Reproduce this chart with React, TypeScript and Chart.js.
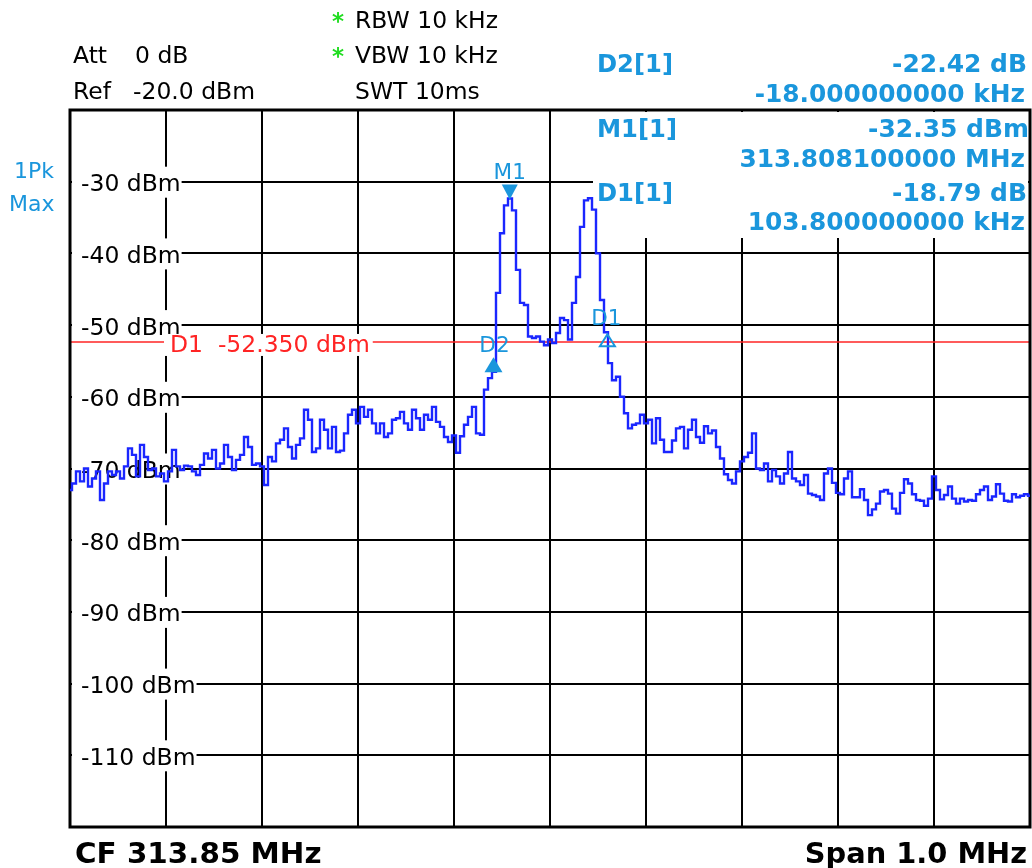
import React, { useEffect, useRef } from "react";
import { Chart, registerables } from "chart.js";

Chart.register(...registerables);

// ---- data ----
const centerMHz = 313.85;
const spanKHz = 1000;
const sweepPoints = 241;
const refLevel = -20;
const bottomLevel = -120;
const levelStep = 10;
const freqGridStepKHz = 100;

const traceLevels: number[] = [
  -73.0, -72.1, -70.4, -71.8, -70.0, -72.5, -71.4, -70.4, -74.4, -72.1,
  -70.4, -70.9, -70.4, -71.4, -69.7, -67.2, -68.1, -71.1, -66.7, -68.4,
  -70.2, -70.0, -71.1, -70.7, -71.8, -70.4, -67.4, -69.7, -70.2, -69.6,
  -69.7, -70.4, -70.9, -69.5, -67.9, -68.6, -67.4, -70.0, -69.3, -66.7,
  -68.4, -70.2, -68.8, -68.1, -65.6, -67.0, -69.5, -69.3, -69.7, -72.3,
  -68.4, -69.0, -66.5, -66.0, -64.4, -67.0, -68.6, -66.7, -65.8, -61.8,
  -63.2, -67.7, -67.2, -63.2, -64.6, -67.2, -64.2, -67.7, -67.5, -65.1,
  -62.5, -61.8, -63.7, -61.4, -62.8, -61.8, -63.7, -65.1, -63.7, -65.6,
  -65.1, -63.2, -63.0, -62.1, -63.7, -64.6, -61.8, -63.0, -64.6, -62.5,
  -63.2, -61.4, -63.5, -64.2, -65.6, -66.3, -65.4, -67.8, -65.5, -63.9,
  -62.8, -61.4, -65.1, -65.3, -59.0, -57.4, -56.5, -45.5, -37.2, -33.3,
  -32.35, -34.0, -42.3, -46.9, -47.2, -51.6, -51.8, -51.6, -52.3, -52.8,
  -52.0, -52.5, -51.1, -49.0, -49.3, -52.0, -46.9, -43.3, -36.3, -32.6,
  -32.3, -33.9, -40.0, -46.5, -51.0, -55.3, -57.7, -57.2, -60.0, -62.3,
  -64.4, -63.9, -63.7, -62.5, -63.7, -63.2, -66.5, -63.0, -66.0, -67.7,
  -67.7, -66.1, -64.4, -64.2, -67.2, -64.6, -63.2, -65.6, -66.4, -64.1,
  -65.1, -64.7, -67.0, -68.6, -70.8, -71.6, -72.1, -70.4, -69.0, -68.4,
  -67.8, -65.1, -70.0, -70.2, -69.3, -71.8, -70.2, -71.1, -72.1, -70.7,
  -67.7, -71.4, -71.8, -72.3, -70.9, -73.5, -73.7, -73.9, -74.4, -70.7,
  -70.0, -72.0, -73.4, -73.6, -71.4, -70.4, -74.0, -74.0, -72.9, -74.4,
  -76.5, -75.7, -74.9, -73.2, -73.0, -73.5, -75.6, -76.3, -73.4, -71.5,
  -72.1, -73.6, -74.4, -74.5, -75.2, -74.2, -71.1, -73.0, -74.3, -73.7,
  -72.5, -74.2, -74.9, -74.2, -74.6, -74.4, -74.5, -73.6, -73.0, -72.5,
  -74.4, -73.9, -72.2, -73.5, -74.5, -74.6, -73.6, -74.0, -73.8, -73.6,
  -73.8,
];

const yTickValues = [-30, -40, -50, -60, -70, -80, -90, -100, -110];
const yTickLabels = ["-30 dBm", "-40 dBm", "-50 dBm", "-60 dBm", "-70 dBm", "-80 dBm", "-90 dBm", "-100 dBm", "-110 dBm"];

const markerNames = ["M1", "D2", "D1"];
const markerOffsetsKHz = [458.1, 440.1, 561.9];
const markerLevels = [-32.35, -54.77, -51.14];
const markerShapes = ["down", "up", "upOpen"];

const displayLineLevel = -52.35;
const displayLineLabel = "D1  -52.350 dBm";

const infoNames = ["D2[1]", "M1[1]", "D1[1]"];
const infoValues = ["-22.42 dB", "-32.35 dBm", "-18.79 dB"];
const infoFreqs = ["-18.000000000 kHz", "313.808100000 MHz", "103.800000000 kHz"];

const headerLeft = [
  ["Att", "0 dB"],
  ["Ref", "-20.0 dBm"],
];
const headerMid = ["RBW 10 kHz", "VBW 10 kHz", "SWT 10ms"];
const traceInfo = ["1Pk", "Max"];
const footerLeft = `CF ${centerMHz.toFixed(2)} MHz`;
const footerRight = `Span ${(spanKHz / 1000).toFixed(1)} MHz`;

// ---- styles ----
const BLUE_MK = "#1a96dc";
const TRACE = "#1a26ff";
const RED = "#ff2424";
const GREEN = "#22dd22";
const FONT = '"DejaVu Sans", Verdana, sans-serif';
const NSIZE = 23;
const NSX = 1.02;

type Align = "left" | "right" | "center";
function txt(
  ctx: CanvasRenderingContext2D,
  s: string,
  x: number,
  y: number,
  size: number,
  color: string,
  opts: { bold?: boolean; align?: Align; sx?: number } = {}
) {
  const sx = opts.sx ?? 1;
  ctx.save();
  ctx.font = `${opts.bold ? "bold " : ""}${size}px ${FONT}`;
  ctx.fillStyle = color;
  ctx.textBaseline = "alphabetic";
  ctx.textAlign = "left";
  const w = ctx.measureText(s).width * sx;
  const left = opts.align === "right" ? x - w : opts.align === "center" ? x - w / 2 : x;
  ctx.translate(left, y);
  ctx.scale(sx, 1);
  ctx.fillText(s, 0, 0);
  ctx.restore();
  return { left, w };
}

const overlayPlugin = {
  id: "specOverlay",
  beforeDatasetsDraw(chart: any) {
    const ctx: CanvasRenderingContext2D = chart.ctx;
    const { left, right, top, bottom } = chart.chartArea;
    const ys = chart.scales.y;

    // info box (white) covering grid at top right
    ctx.save();
    ctx.fillStyle = "#fff";
    ctx.fillRect(593, top + 2, right - 2 - 593, 238 - top - 2);
    ctx.restore();

    // y labels
    yTickValues.forEach((v, i) => {
      const py = ys.getPixelForValue(v);
      ctx.save();
      ctx.font = `${NSIZE}px ${FONT}`;
      const w = ctx.measureText(yTickLabels[i]).width * NSX;
      ctx.fillStyle = "#fff";
      ctx.fillRect(left + 2, py - 15, 81 - left - 2 + w + 1, 31);
      ctx.restore();
      txt(ctx, yTickLabels[i], 81, py + 9.5, NSIZE, "#000", { sx: NSX });
    });

    // display line
    const dy = ys.getPixelForValue(displayLineLevel);
    ctx.save();
    ctx.strokeStyle = RED;
    ctx.lineWidth = 1.6;
    ctx.beginPath();
    ctx.moveTo(left, dy);
    ctx.lineTo(right, dy);
    ctx.stroke();
    ctx.font = `${NSIZE}px ${FONT}`;
    const rw = ctx.measureText(displayLineLabel).width * NSX;
    ctx.fillStyle = "#fff";
    ctx.fillRect(164, dy - 8, rw + 9, 22);
    ctx.restore();
    txt(ctx, displayLineLabel, 170, dy + 10.5, NSIZE, RED, { sx: NSX });

    // frame
    ctx.save();
    ctx.strokeStyle = "#000";
    ctx.lineWidth = 3;
    ctx.strokeRect(left, top, right - left, bottom - top);
    ctx.restore();
  },
  afterDatasetsDraw(chart: any) {
    const ctx: CanvasRenderingContext2D = chart.ctx;
    const xs = chart.scales.x;
    const ys = chart.scales.y;

    markerNames.forEach((name, i) => {
      const mx = xs.getPixelForValue(markerOffsetsKHz[i]);
      const my = ys.getPixelForValue(markerLevels[i]);
      const shape = markerShapes[i];
      ctx.save();
      ctx.fillStyle = BLUE_MK;
      ctx.strokeStyle = BLUE_MK;
      ctx.lineWidth = 2;
      ctx.beginPath();
      if (shape === "down") {
        ctx.moveTo(mx, my + 1);
        ctx.lineTo(mx - 8, my - 14);
        ctx.lineTo(mx + 8, my - 14);
        ctx.closePath();
        ctx.fill();
      } else if (shape === "up") {
        ctx.moveTo(mx + 1, my - 2);
        ctx.lineTo(mx - 8, my + 13);
        ctx.lineTo(mx + 10, my + 13);
        ctx.closePath();
        ctx.fill();
      } else {
        ctx.moveTo(mx - 2, my + 1);
        ctx.lineTo(mx - 9.5, my + 13);
        ctx.lineTo(mx + 5.5, my + 13);
        ctx.closePath();
        ctx.stroke();
      }
      ctx.restore();
      const ly = shape === "down" ? my - 20 : shape === "up" ? my - 7 : my - 8;
      txt(ctx, name, mx + (shape === "down" ? 0 : shape === "up" ? 2 : -3), ly, 22, BLUE_MK, { align: "center", sx: 0.98 });
    });
  },
  afterDraw(chart: any) {
    const ctx: CanvasRenderingContext2D = chart.ctx;
    const hb = [63, 99];
    headerLeft.forEach((row, r) => {
      txt(ctx, row[0], 73, hb[r], NSIZE, "#000", { sx: NSX });
      txt(ctx, row[1], r === 0 ? 135 : 133, hb[r], NSIZE, "#000", { sx: NSX });
    });
    const mb = [28, 63, 99];
    headerMid.forEach((s, r) => {
      txt(ctx, s, 355, mb[r], NSIZE, "#000", { sx: NSX });
      if (r < 2) txt(ctx, "*", 332, mb[r] + 1, 23, GREEN, { bold: true });
    });
    txt(ctx, traceInfo[0], 14, 178, 22, BLUE_MK, { sx: 1.0 });
    txt(ctx, traceInfo[1], 9, 211, 22, BLUE_MK, { sx: 1.0 });
    const nameBase = [72, 136.5, 201];
    const freqBase = [102, 166.5, 230];
    infoNames.forEach((n, i) => {
      txt(ctx, n, 597, nameBase[i], 24, BLUE_MK, { bold: true, sx: 1.01 });
      txt(ctx, infoValues[i], i === 1 ? 1029 : 1027, nameBase[i], 24, BLUE_MK, { bold: true, align: "right", sx: 1.04 });
      txt(ctx, infoFreqs[i], 1025, freqBase[i], 24, BLUE_MK, { bold: true, align: "right", sx: 1.035 });
    });
    txt(ctx, footerLeft, 75, 863, 28, "#000", { bold: true, sx: 1.05 });
    txt(ctx, footerRight, 1027, 863, 28, "#000", { bold: true, align: "right", sx: 1.03 });
  },
};

export default function App() {
  const ref = useRef<HTMLCanvasElement | null>(null);
  useEffect(() => {
    if (!ref.current) return;
    const stepKHz = spanKHz / (sweepPoints - 1);
    const points = traceLevels.map((v, i) => ({ x: i * stepKHz, y: v }));
    const chart = new Chart(ref.current, {
      type: "line",
      data: {
        datasets: [
          {
            data: points,
            borderColor: TRACE,
            borderWidth: 2.4,
            pointRadius: 0,
            stepped: "middle",
            fill: false,
          } as any,
        ],
      },
      options: {
        animation: false,
        responsive: false,
        maintainAspectRatio: false,
        layout: { padding: { left: 70, right: 2, top: 110, bottom: 41 } },
        plugins: { legend: { display: false }, tooltip: { enabled: false } },
        scales: {
          x: {
            type: "linear",
            min: 0,
            max: spanKHz,
            ticks: { display: false, stepSize: freqGridStepKHz },
            grid: { color: "#000", lineWidth: 2, drawTicks: false },
            border: { display: false },
            afterFit: (s: any) => {
              s.height = 0;
            },
          },
          y: {
            type: "linear",
            min: bottomLevel,
            max: refLevel,
            ticks: { display: false, stepSize: levelStep },
            grid: { color: "#000", lineWidth: 2, drawTicks: false },
            border: { display: false },
            afterFit: (s: any) => {
              s.width = 0;
            },
          },
        },
      } as any,
      plugins: [overlayPlugin],
    });
    return () => chart.destroy();
  }, []);
  return (
    <div style={{ position: "absolute", left: 0, top: 0, width: 1032, height: 868, background: "#fff" }}>
      <canvas ref={ref} width={1032} height={868} style={{ display: "block" }} />
    </div>
  );
}
